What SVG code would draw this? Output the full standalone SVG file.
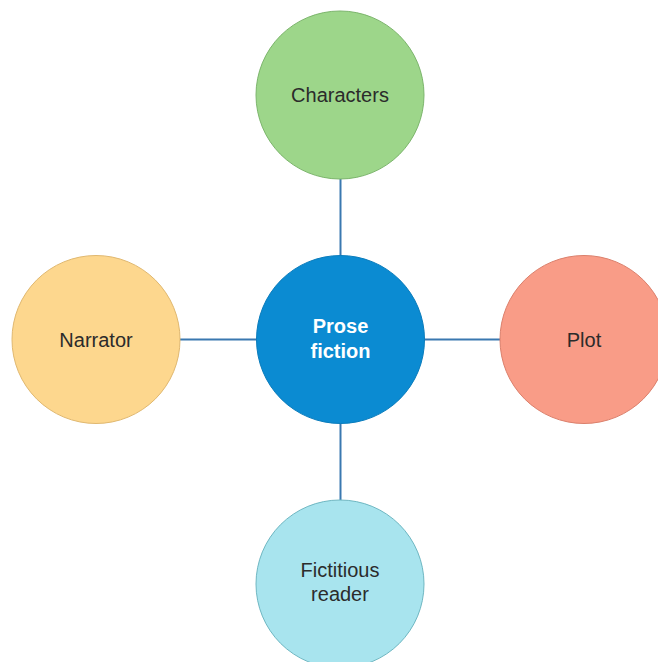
<svg xmlns="http://www.w3.org/2000/svg" width="658" height="662" viewBox="0 0 658 662">
  <style>
    .node { stroke-width: 1; }
    .label { font-family: "Liberation Sans", Arial, sans-serif; font-size: 20px; fill: #2b2b2b; text-anchor: middle; }
    .center-label { font-family: "Liberation Sans", Arial, sans-serif; font-size: 20px; font-weight: bold; fill: #ffffff; text-anchor: middle; }
    .conn { stroke: #3a78b0; stroke-width: 2; fill: none; }
  </style>
  <rect width="658" height="662" fill="#ffffff"/>
  <g id="connectors">
    <line class="conn" x1="340.5" y1="178" x2="340.5" y2="257"/>
    <line class="conn" x1="340.5" y1="423" x2="340.5" y2="501"/>
    <line class="conn" x1="180" y1="339.5" x2="257" y2="339.5"/>
    <line class="conn" x1="424" y1="339.5" x2="501" y2="339.5"/>
  </g>
  <g id="characters">
    <circle class="node" cx="340" cy="95" r="84" fill="#9dd68a" stroke="#7cb56c"/>
    <text class="label" x="340" y="102">Characters</text>
  </g>
  <g id="narrator">
    <circle class="node" cx="96" cy="339.5" r="84" fill="#fdd78e" stroke="#e0b870"/>
    <text class="label" x="96" y="346.5">Narrator</text>
  </g>
  <g id="plot">
    <circle class="node" cx="584" cy="339.5" r="84" fill="#f99c87" stroke="#db806c"/>
    <text class="label" x="584" y="346.5">Plot</text>
  </g>
  <g id="fictitious-reader">
    <circle class="node" cx="340" cy="584" r="84" fill="#a8e4ee" stroke="#6fb7c2"/>
    <text class="label" x="340" y="577">Fictitious</text>
    <text class="label" x="340" y="601">reader</text>
  </g>
  <g id="prose-fiction">
    <circle class="node" cx="340.5" cy="339.5" r="84" fill="#0b8bd2" stroke="#0a7cbc"/>
    <text class="center-label" x="340.5" y="333">Prose</text>
    <text class="center-label" x="340.5" y="358">fiction</text>
  </g>
</svg>
